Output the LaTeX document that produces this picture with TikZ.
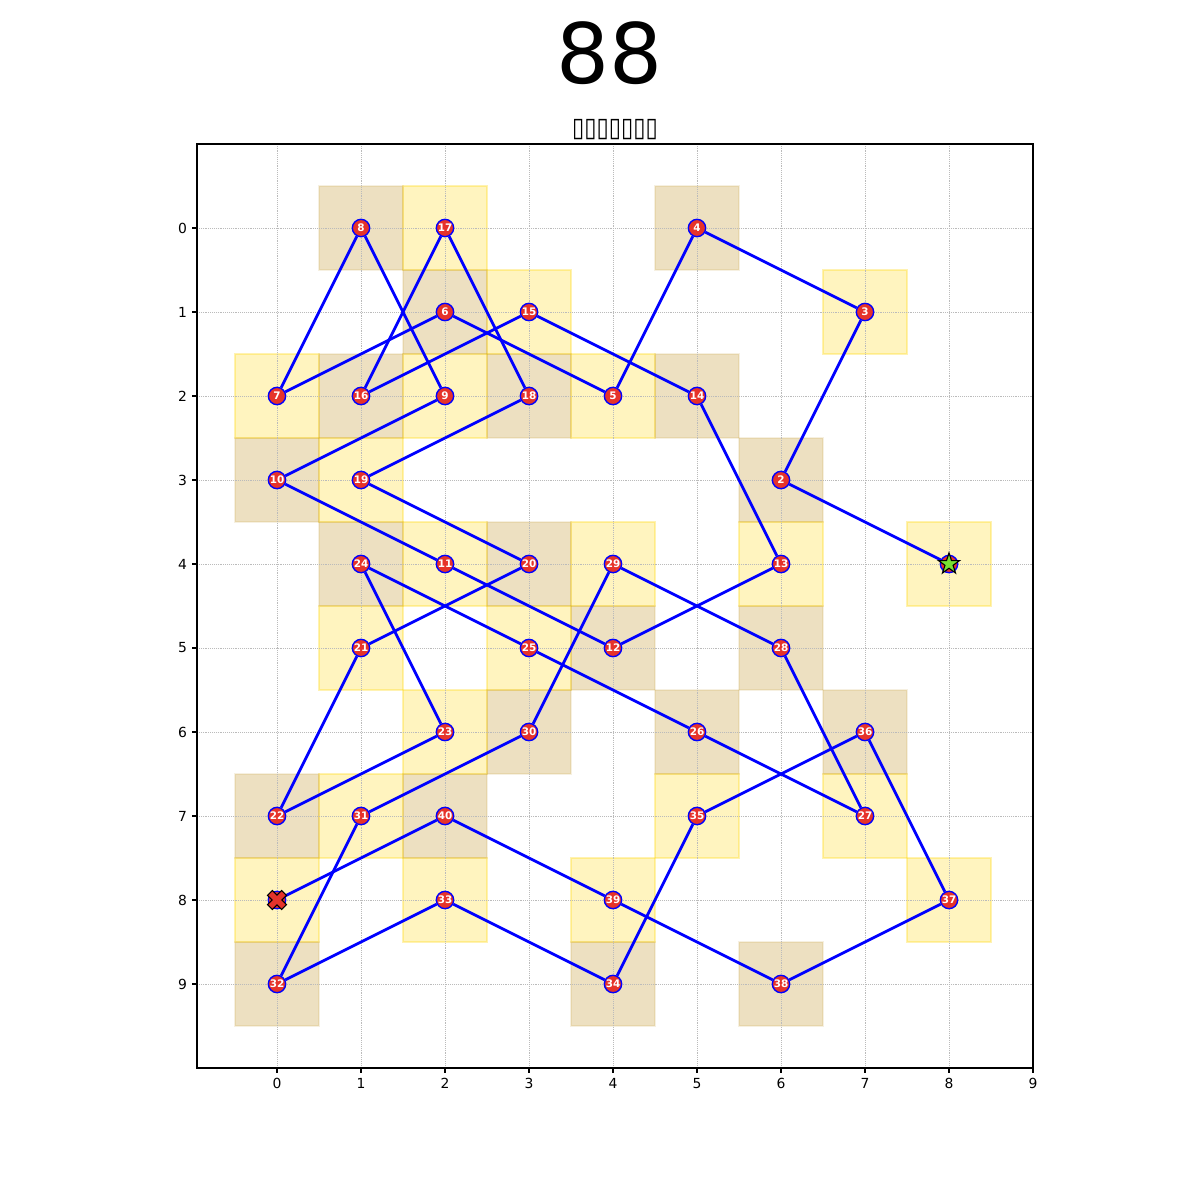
\documentclass[tikz,border=0pt]{standalone}
\usepackage{fontspec}
\setmainfont{DejaVu Sans}
\usetikzlibrary{shapes.geometric}
\definecolor{cgold}{HTML}{FFD700}
\definecolor{ctan}{HTML}{B8860B}
\definecolor{cred}{HTML}{E6332A}
\definecolor{cgreen}{HTML}{77E033}
\definecolor{cgrid}{HTML}{BBBBBB}
\pgfdeclarelayer{cells}
\pgfdeclarelayer{lines}
\pgfsetlayers{cells,lines,main}
\tikzset{
  yellowcell/.style={fill=cgold, fill opacity=0.25, draw=cgold, draw opacity=0.3, line width=1pt},
  tancell/.style={fill=ctan, fill opacity=0.25, draw=ctan, draw opacity=0.12, line width=1pt},
  gridline/.style={draw=cgrid, line width=0.5pt, dash pattern=on 0.5pt off 0.85pt},
  route/.style={draw=blue, line width=2pt},
  pt/.style={circle, fill=cred, draw=blue, line width=1pt, minimum size=12.5pt, inner sep=0pt,
    text=white, font=\fontsize{7.5}{8}\selectfont\bfseries},
  ticklab/.style={font=\fontsize{10}{12}\selectfont, inner sep=0pt},
  axisline/.style={line width=0.8pt, draw=black}
}
\begin{document}
\begin{tikzpicture}[x=0.72pt,y=-0.72pt]
\useasboundingbox (0,0) rectangle (1200,1200);
\begin{pgfonlayer}{cells}
  \fill[white] (0,0) rectangle (1200,1200);
\end{pgfonlayer}
\node[font=\fontsize{60}{72}\selectfont, inner sep=0pt] (title) at (610,53.5) {88};
\node[font=\fontsize{16}{18}\selectfont, inner sep=0pt] (sub) at (615,130) {\scalebox{1}[1.2]{▯▯▯▯▯▯▯}};
\begin{scope}[shift={(277,228)}, x=60.48pt, y=-60.48pt]
  \begin{pgfonlayer}{cells}
    \foreach \cx/\cy in {2/0,3/1,7/1,0/2,2/2,4/2,1/3,2/4,4/4,6/4,8/4,1/5,3/5,2/6,1/7,5/7,7/7,0/8,2/8,4/8,8/8}
      \path[yellowcell] (\cx-0.5,\cy-0.5) rectangle (\cx+0.5,\cy+0.5);
    \foreach \cx/\cy in {1/0,5/0,2/1,1/2,3/2,5/2,0/3,6/3,1/4,3/4,4/5,6/5,3/6,5/6,7/6,0/7,2/7,0/9,4/9,6/9}
      \path[tancell] (\cx-0.5,\cy-0.5) rectangle (\cx+0.5,\cy+0.5);
    \foreach \i in {0,...,9} {
      \draw[gridline] (\i,-1) -- (\i,10);
      \draw[gridline] (-0.95238,\i) -- (9,\i);
    }
  \end{pgfonlayer}
  % axes frame and ticks
  \draw[axisline] (-0.95238,-1) rectangle (9,10);
  \foreach \i in {0,...,9} {
    \draw[axisline] (\i,10) -- ++(0,-3.5pt);
    \draw[axisline] (-0.95238,\i) -- ++(-3.5pt,0);
    \node[ticklab, anchor=north] (xl\i) at ([yshift=-7pt]\i,10) {\i};
    \node[ticklab, anchor=east] (yl\i) at ([xshift=-7pt]-0.95238,\i) {\i};
  }
  % nodes
  \node[pt] (s) at (8,4) {};
  \foreach \n/\px/\py in {2/6/3,3/7/1,4/5/0,5/4/2,6/2/1,7/0/2,8/1/0,9/2/2,10/0/3,
      11/2/4,12/4/5,13/6/4,14/5/2,15/3/1,16/1/2,17/2/0,18/3/2,19/1/3,20/3/4,
      21/1/5,22/0/7,23/2/6,24/1/4,25/3/5,26/5/6,27/7/7,28/6/5,29/4/4,30/3/6,
      31/1/7,32/0/9,33/2/8,34/4/9,35/5/7,36/7/6,37/8/8,38/6/9,39/4/8,40/2/7}
    \node[pt] (n\n) at (\px,\py) {\n};
  \node[pt] (e) at (0,8) {};
  % start star
  \node[star, star points=5, star point ratio=2.618, minimum size=16pt, inner sep=0pt,
        fill=cgreen, draw=black, line width=0.8pt] (sstar) at (s) {};
  % end X marker
  \begin{scope}[shift={(e)}, rotate=45]
    \filldraw[fill=cred, draw=black, line width=0.8pt]
      (-2.5pt,7.2pt) -- (2.5pt,7.2pt) -- (2.5pt,2.5pt) -- (7.2pt,2.5pt) -- (7.2pt,-2.5pt)
      -- (2.5pt,-2.5pt) -- (2.5pt,-7.2pt) -- (-2.5pt,-7.2pt) -- (-2.5pt,-2.5pt)
      -- (-7.2pt,-2.5pt) -- (-7.2pt,2.5pt) -- (-2.5pt,2.5pt) -- cycle;
  \end{scope}
  % route
  \begin{pgfonlayer}{lines}
    \draw[route] (s) -- (n2);
    \foreach \a [evaluate=\a as \b using int(\a+1)] in {2,...,39}
      \draw[route] (n\a) -- (n\b);
    \draw[route] (n40) -- (e);
  \end{pgfonlayer}
\end{scope}
\end{tikzpicture}
\end{document}
